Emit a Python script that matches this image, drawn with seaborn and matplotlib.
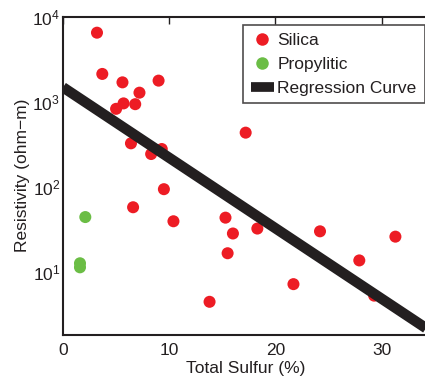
import matplotlib
matplotlib.use("Agg")
import matplotlib.pyplot as plt
import seaborn as sns
import numpy as np
import pandas as pd
from matplotlib.lines import Line2D
from matplotlib.ticker import LogLocator, NullFormatter

# Data
silica_sulfur = [3.2, 3.7, 5.6, 9.0, 7.2, 5.7, 6.8, 5.0, 6.4, 9.3, 8.3, 17.2,
                 9.5, 6.6, 10.4, 15.3, 16.0, 15.5, 18.3, 13.8,
                 24.2, 31.3, 27.9, 21.7, 29.3]
silica_resist = [6450, 2110, 1680, 1760, 1270, 950, 930, 820, 322, 276, 241, 430,
                 93, 57, 39, 43, 28, 16.4, 32, 4.4,
                 29.7, 25.7, 13.5, 7.1, 5.2]
prop_sulfur = [2.1, 1.6, 1.6]
prop_resist = [43.7, 12.5, 11.2]
reg_intercept_log10 = 3.167
reg_slope_log10 = -0.0829
reg_x = [0.0, 35.0]

sns.set_theme(style="white")
plt.rcParams['font.family'] = ['Liberation Sans', 'DejaVu Sans']
plt.rcParams['mathtext.fontset'] = 'custom'
plt.rcParams['mathtext.rm'] = 'Liberation Sans'
plt.rcParams['mathtext.it'] = 'Liberation Sans:italic'
plt.rcParams['mathtext.bf'] = 'Liberation Sans:bold'

df = pd.DataFrame({
    "sulfur": silica_sulfur + prop_sulfur,
    "resist": silica_resist + prop_resist,
    "group": ["Silica"] * len(silica_sulfur) + ["Propylitic"] * len(prop_sulfur),
})
red = "#ED1C24"
green = "#6BBD45"
dark = "#231F20"

fig = plt.figure(figsize=(4.25, 3.81), dpi=100)
W, H = 425, 381
ax = fig.add_axes([63 / W, (H - 335) / H, (428 - 63) / W, (335 - 16.5) / H])

sns.scatterplot(data=df, x="sulfur", y="resist", hue="group",
                palette={"Silica": red, "Propylitic": green},
                s=75, edgecolor="none", linewidth=0, ax=ax, legend=False, zorder=2)

reg_df = pd.DataFrame({"x": reg_x})
reg_df["y"] = 10 ** (reg_intercept_log10 + reg_slope_log10 * reg_df["x"])
sns.lineplot(data=reg_df, x="x", y="y", color=dark, linewidth=7.5, ax=ax, zorder=3,
             solid_capstyle="butt")

ax.set_yscale("log")
ax.set_xlim(0, (428 - 63) / 10.62)
ax.set_ylim(10 ** (4 - (335 - 16.5) / 85.0), 1e4)
ax.set_xticks([0, 10, 20, 30])
ax.yaxis.set_major_locator(LogLocator(base=10, numticks=10))
ax.yaxis.set_minor_locator(LogLocator(base=10, subs=np.arange(2, 10), numticks=20))
ax.yaxis.set_minor_formatter(NullFormatter())

ax.tick_params(which="both", direction="in", top=True, right=False, colors=dark,
               labelsize=12.5, labelcolor=dark)
ax.tick_params(which="major", length=5, width=1.0, pad=6)
ax.tick_params(axis="y", which="major", pad=2)
ax.tick_params(which="minor", length=3, width=0.8)
for sp in ax.spines.values():
    sp.set_color(dark)
    sp.set_linewidth(1.5)

ax.set_xlabel("Total Sulfur (%)", fontsize=12.5, color=dark, labelpad=2)
ax.set_ylabel("Resistivity (ohm\u2212m)", fontsize=12.5, color=dark, labelpad=2)

handles = [
    Line2D([], [], marker="o", linestyle="none", color=red, markersize=9, markeredgewidth=0),
    Line2D([], [], marker="o", linestyle="none", color=green, markersize=9, markeredgewidth=0),
    Line2D([], [], color=dark, linewidth=7, solid_capstyle="butt"),
]
leg = ax.legend(handles, ["Silica", "Propylitic", "Regression Curve"],
                loc="upper right", bbox_to_anchor=(424.5 / W, (H - 25) / H),
                bbox_transform=fig.transFigure, fontsize=12.5, frameon=True,
                fancybox=False, handlelength=1.35, handletextpad=0.2,
                borderpad=0.45, labelspacing=0.5, borderaxespad=0)
leg.get_frame().set_edgecolor(dark)
leg.get_frame().set_linewidth(1.2)
for t in leg.get_texts():
    t.set_color(dark)

fig.savefig("out.png", dpi=100)
